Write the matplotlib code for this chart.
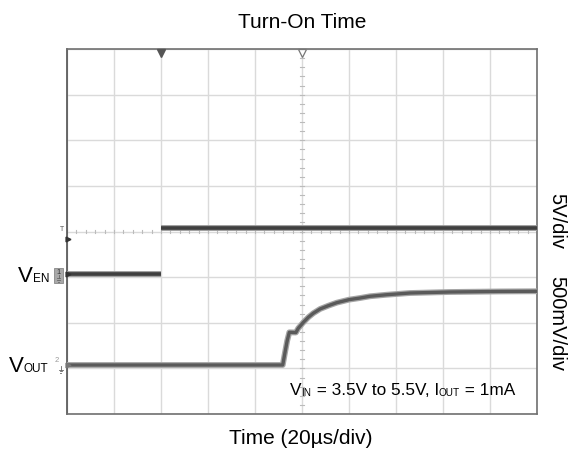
import numpy as np
import matplotlib.pyplot as plt
from matplotlib.patches import Rectangle

plt.rcParams['font.family'] = ['Liberation Sans', 'DejaVu Sans']

W, H = 571, 464

# time axis in microseconds, 0 = trigger point
t_start, t_end = -40, 160
us_per_div = 20
n_ydiv = 8

# channel 1: VEN (5V/div), ground marker at 3.07 div
ven_t = [-40, 0, np.nan, 0, 160]
ven_v = [0.0, 0.0, np.nan, 5.0, 5.0]
ven_scale = 5.0
ven_offset = 3.07

# channel 2: VOUT (500mV/div), ground marker at 1.074 div
vout_t = [-40, 51.8, 52.8, 53.7, 54.6, 57.4, 58.4, 60.6, 62.7, 64.8, 67.7, 71.2,
          74.8, 80.0, 84.7, 88.9, 96.0, 106, 123, 144.3, 160]
vout_v = [0.0, 0.0, 0.142, 0.266, 0.358, 0.356, 0.402, 0.468, 0.523, 0.567, 0.614, 0.65,
          0.683, 0.716, 0.734, 0.753, 0.77, 0.789, 0.80, 0.806, 0.808]
vout_scale = 0.5
vout_offset = 1.074

fig = plt.figure(figsize=(W / 100, H / 100), dpi=100)
ax = fig.add_axes([67 / W, 1 - 415 / H, 470 / W, 365 / H])
ax.set_xlim(t_start, t_end)
ax.set_ylim(0, n_ydiv)

# grid
for xg in np.arange(t_start, t_end + 1, us_per_div):
    ax.axvline(xg, color='#dadada', lw=1.0, zorder=1)
for yg in range(n_ydiv + 1):
    ax.axhline(yg, color='#dadada', lw=1.0, zorder=1)

# minor ticks on the center lines
t_mid = (t_start + t_end) / 2
for yy in np.arange(0, n_ydiv + 0.01, 0.2):
    ax.plot([t_mid - 0.9, t_mid + 0.9], [yy, yy], color='#bbbbbb', lw=0.8, zorder=1)
for xx in np.arange(t_start, t_end + 0.01, us_per_div / 5):
    ax.plot([xx, xx], [4 - 0.04, 4 + 0.04], color='#bbbbbb', lw=0.8, zorder=1)

# traces: fuzzy halo + core
ven_y = np.array(ven_v) / ven_scale + ven_offset
vout_y = np.array(vout_v) / vout_scale + vout_offset
ax.plot(ven_t, ven_y, color='#9a9a9a', lw=4.2, solid_capstyle='butt', zorder=3)
ax.plot(ven_t, ven_y, color='#3f3f3f', lw=2.6, solid_capstyle='butt', zorder=4)
ax.plot(vout_t, vout_y, color='#a5a5a5', lw=4.2, solid_capstyle='butt', zorder=3)
ax.plot(vout_t, vout_y, color='#5a5a5a', lw=2.4, solid_capstyle='butt', zorder=4)

for s in ax.spines.values():
    s.set_color('#707070')
    s.set_linewidth(1.2)
ax.spines['left'].set_color('#505050')
ax.set_xticks([])
ax.set_yticks([])

# trigger markers on top
ax.plot([0], [n_ydiv - 0.08], marker='v', ms=6, color='#555555', clip_on=False, zorder=6)
ax.plot([t_mid], [n_ydiv - 0.08], marker='v', ms=6, mfc='white', mec='#777777', mew=0.9,
        clip_on=False, zorder=6)

# trigger level marker on the left
ax.text(t_start - 1.2, ven_offset + 1.0, 'T', fontsize=5, color='#555555',
        ha='right', va='center')
ax.plot([t_start + 0.5], [ven_offset + 0.77], marker='>', ms=3.5, color='#333333',
        clip_on=False, zorder=6)

# channel ground markers
ax.add_patch(Rectangle((t_start - 5.5, ven_offset - 0.2), 3.8, 0.33, facecolor='#a8a8a8',
                       edgecolor='#888888', lw=0.6, clip_on=False, zorder=6))
ax.text(t_start - 3.6, ven_offset + 0.05, '1', fontsize=5.5, color='#333333',
        ha='center', va='center', zorder=7)
ax.plot([t_start + 0.3], [ven_offset], marker='>', ms=3.5, color='#333333',
        clip_on=False, zorder=7)
ax.text(t_start - 4.2, vout_offset + 0.12, '2', fontsize=5.5, color='#999999',
        ha='center', va='center', zorder=7)
ax.plot([t_start + 0.3], [vout_offset], marker='>', ms=3.5, color='#777777',
        clip_on=False, zorder=7)
for gx, gy in [(t_start - 3.6, ven_offset - 0.02), (t_start - 2.6, vout_offset - 0.02)]:
    ax.plot([gx, gx], [gy, gy - 0.08], color='#666666', lw=0.6, clip_on=False, zorder=7)
    for k, hw in enumerate([0.8, 0.5, 0.2]):
        ax.plot([gx - hw, gx + hw], [gy - 0.08 - k * 0.04] * 2, color='#666666', lw=0.6,
                clip_on=False, zorder=7)


def rich(x_px, base_px, parts):
    """Place text pieces [(string, size, dy_px)] in sequence, baseline at base_px (from top)."""
    renderer = fig.canvas.get_renderer()
    x = x_px
    for s, size, dy in parts:
        t = fig.text(x / W, 1 - (base_px + dy) / H, s, fontsize=size, va='baseline', ha='left')
        x += t.get_window_extent(renderer).width


rich(18, 282, [('V', 16, 0), ('EN', 8.5, 0)])
rich(9, 372, [('V', 16, 0), ('OUT', 8.5, 0)])
rich(290, 395, [('V', 12.4, 0), ('IN', 7.2, 1), (' = 3.5V to 5.5V, I', 12.4, 0), ('OUT', 7.2, 1),
                (' = 1mA', 12.4, 0)])

# scale labels
fig.text(557 / W, 1 - 221 / H, '5V/div', rotation=-90, fontsize=14.5, ha='center', va='center')
fig.text(557 / W, 1 - 323.5 / H, '500mV/div', rotation=-90, fontsize=14.5, ha='center',
         va='center')

fig.text(302 / W, 1 - 28.5 / H, 'Turn-On Time', fontsize=15, ha='center', va='baseline')
fig.text(301 / W, 1 - 444 / H, 'Time (20µs/div)', fontsize=15, ha='center', va='baseline')

fig.savefig('out.png', dpi=100)
